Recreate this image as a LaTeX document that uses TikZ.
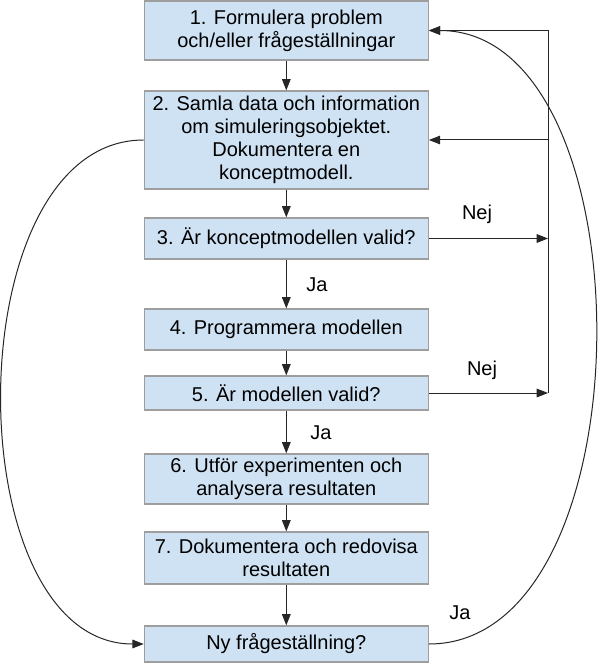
\documentclass[tikz,border=0pt]{standalone}
\usepackage{fontspec}
\setmainfont{Liberation Sans}
\usetikzlibrary{arrows.meta}
\definecolor{boxfill}{HTML}{CFE2F3}
\definecolor{boxline}{HTML}{9E9E9E}
\begin{document}
\begin{tikzpicture}[x=0.75pt,y=-0.75pt,
  box/.style={draw=boxline,fill=boxfill,line width=0.9pt,minimum width=213pt,inner sep=0pt,align=center,
    font=\fontsize{15}{17.25}\selectfont},
  lbl/.style={font=\fontsize{15}{17.25}\selectfont,inner sep=0pt},
  arr/.style={-{Triangle[length=8.5pt,width=6.5pt]},line width=0.75pt,draw=black!85},
  ln/.style={line width=0.75pt,draw=black!85}]
\useasboundingbox (0,0) rectangle (598,663);
\node[box,minimum height=44.25pt] (b1) at (286.3,30.5) {1. Formulera problem\\och/eller frågeställningar};
\node[box,minimum height=73.5pt] (b2) at (286.3,140) {2. Samla data och information\\om simuleringsobjektet.\\Dokumentera en\\konceptmodell.};
\node[box,minimum height=30.75pt] (b3) at (286.3,238.5) {3. Är konceptmodellen valid?};
\node[box,minimum height=30.75pt] (b4) at (286.3,329.5) {4. Programmera modellen};
\node[box,minimum height=25.5pt] (b5) at (286.3,393) {5. Är modellen valid?};
\node[box,minimum height=37.5pt] (b6) at (286.3,479) {6. Utför experimenten och\\analysera resultaten};
\node[box,minimum height=39pt] (b7) at (286.3,558) {7. Dokumentera och redovisa\\resultaten};
\node[box,minimum height=27pt] (b8) at (286.3,644) {Ny frågeställning?};
\coordinate (rx) at (548,0);
\draw[arr] (b1) -- (b2);
\draw[arr] (b2) -- (b3);
\draw[arr] (b3) -- (b4);
\draw[arr] (b4) -- (b5);
\draw[arr] (b5) -- (b6);
\draw[arr] (b6) -- (b7);
\draw[arr] (b7) -- (b8);
\draw[arr] (b3.east) -- (b3.east -| rx);
\draw[arr] (b5.east) -- (b5.east -| rx);
\draw[ln] (b5.east -| rx) -- (b1.east -| rx);
\draw[arr] (b1.east -| rx) -- (b1.east);
\draw[arr] (b2.east -| rx) -- (b2.east);
\draw[arr] (b8.east) .. controls +(222,0) and +(222,0) .. (b1.east);
\draw[arr] (b2.west) .. controls +(-189,0) and +(-189,0) .. (b8.west);
\node[lbl] (nej1) at (477,214) {Nej};
\node[lbl] (nej2) at (482,370) {Nej};
\node[lbl] (ja1) at (317,285) {Ja};
\node[lbl] (ja2) at (321,433) {Ja};
\node[lbl] (ja3) at (460,613) {Ja};
\end{tikzpicture}
\end{document}
